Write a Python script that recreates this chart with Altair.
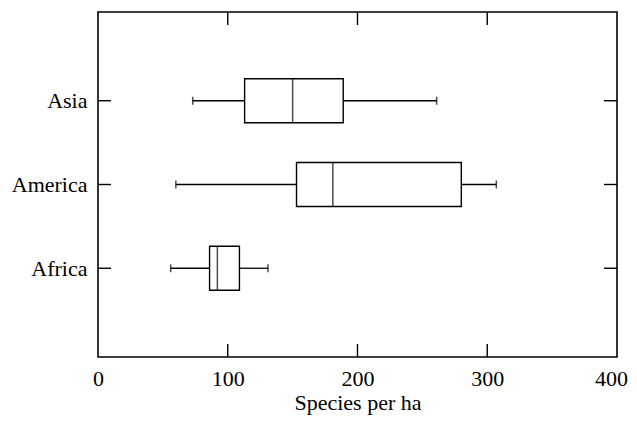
import altair as alt
import pandas as pd

regions = ["Africa", "America", "Asia"]
pos = [1, 2, 3]
lo = [56, 60, 73]
q1 = [86, 153, 113]
med = [92, 181, 150]
q3 = [109, 280, 189]
hi = [131, 307, 261]

x_ticks = [100, 200, 300]
x_labels = [0, 100, 200, 300, 400]

W, H = 519, 345

df = pd.DataFrame({"region": regions, "pos": pos, "lo": lo, "q1": q1,
                   "med": med, "q3": q3, "hi": hi})
dx = pd.DataFrame({"v": x_ticks})

label_expr = "datum.value == 1 ? 'Africa' : datum.value == 2 ? 'America' : datum.value == 3 ? 'Asia' : ''"

xscale = alt.Scale(domain=[0, 400], nice=False, zero=False)
yscale = alt.Scale(domain=[0, 4], nice=False, zero=False)

base = alt.Chart(df)

x_enc = lambda f: alt.X(f, type="quantitative", scale=xscale, title="Species per ha",
                        axis=alt.Axis(values=x_labels, tickSize=0, labelPadding=11, domain=False,
                                      grid=False, titlePadding=3, labelFlush=False,
                                      labelOffset={"condition": {"test": "datum.value == 400", "value": -6}, "value": 0}))
y_enc = alt.Y("pos:Q", scale=yscale, title=None,
              axis=alt.Axis(values=pos, labelExpr=label_expr, tickSize=0, labelPadding=11,
                            domain=False, grid=False))

whisk_lo = base.mark_rule(color="black", strokeWidth=1.3).encode(x=x_enc("lo"), x2="q1", y=y_enc)
whisk_hi = base.mark_rule(color="black", strokeWidth=1.3).encode(x=x_enc("q3"), x2="hi", y=y_enc)
cap_lo = base.mark_tick(color="black", orient="vertical", size=8, thickness=1.5).encode(x=x_enc("lo"), y=y_enc)
cap_hi = base.mark_tick(color="black", orient="vertical", size=8, thickness=1.5).encode(x=x_enc("hi"), y=y_enc)
box = base.mark_bar(orient="horizontal", size=44, fill="white", stroke="black", strokeWidth=1.4).encode(
    x=x_enc("q1"), x2="q3", y=y_enc)
median = base.mark_tick(color="black", orient="vertical", size=44, thickness=1.5).encode(x=x_enc("med"), y=y_enc)

tick_style = dict(color="black", strokeWidth=1.4)
xt_bot = alt.Chart(dx).mark_rule(**tick_style).encode(x=alt.X("v:Q", scale=xscale), y=alt.value(H), y2=alt.value(H - 13))
xt_top = alt.Chart(dx).mark_rule(**tick_style).encode(x=alt.X("v:Q", scale=xscale), y=alt.value(0), y2=alt.value(13))
yt_left = base.mark_rule(**tick_style).encode(y=alt.Y("pos:Q", scale=yscale), x=alt.value(0), x2=alt.value(13))
yt_right = base.mark_rule(**tick_style).encode(y=alt.Y("pos:Q", scale=yscale), x=alt.value(W), x2=alt.value(W - 13))

chart = alt.layer(whisk_lo, whisk_hi, cap_lo, cap_hi, box, median,
                  xt_bot, xt_top, yt_left, yt_right).properties(
    width=W, height=H,
    autosize=alt.AutoSizeParams(type="none"),
    padding={"left": 90, "top": 4, "right": 12, "bottom": 59},
    background="white",
).configure_view(stroke="black", strokeWidth=1.6).configure_axis(
    labelFont="Liberation Serif", titleFont="Liberation Serif",
    labelFontSize=22, titleFontSize=22, labelColor="black", titleColor="black",
    titleFontWeight="normal",
)

chart.save("out.html", embed_options={"renderer": "svg", "actions": False})
